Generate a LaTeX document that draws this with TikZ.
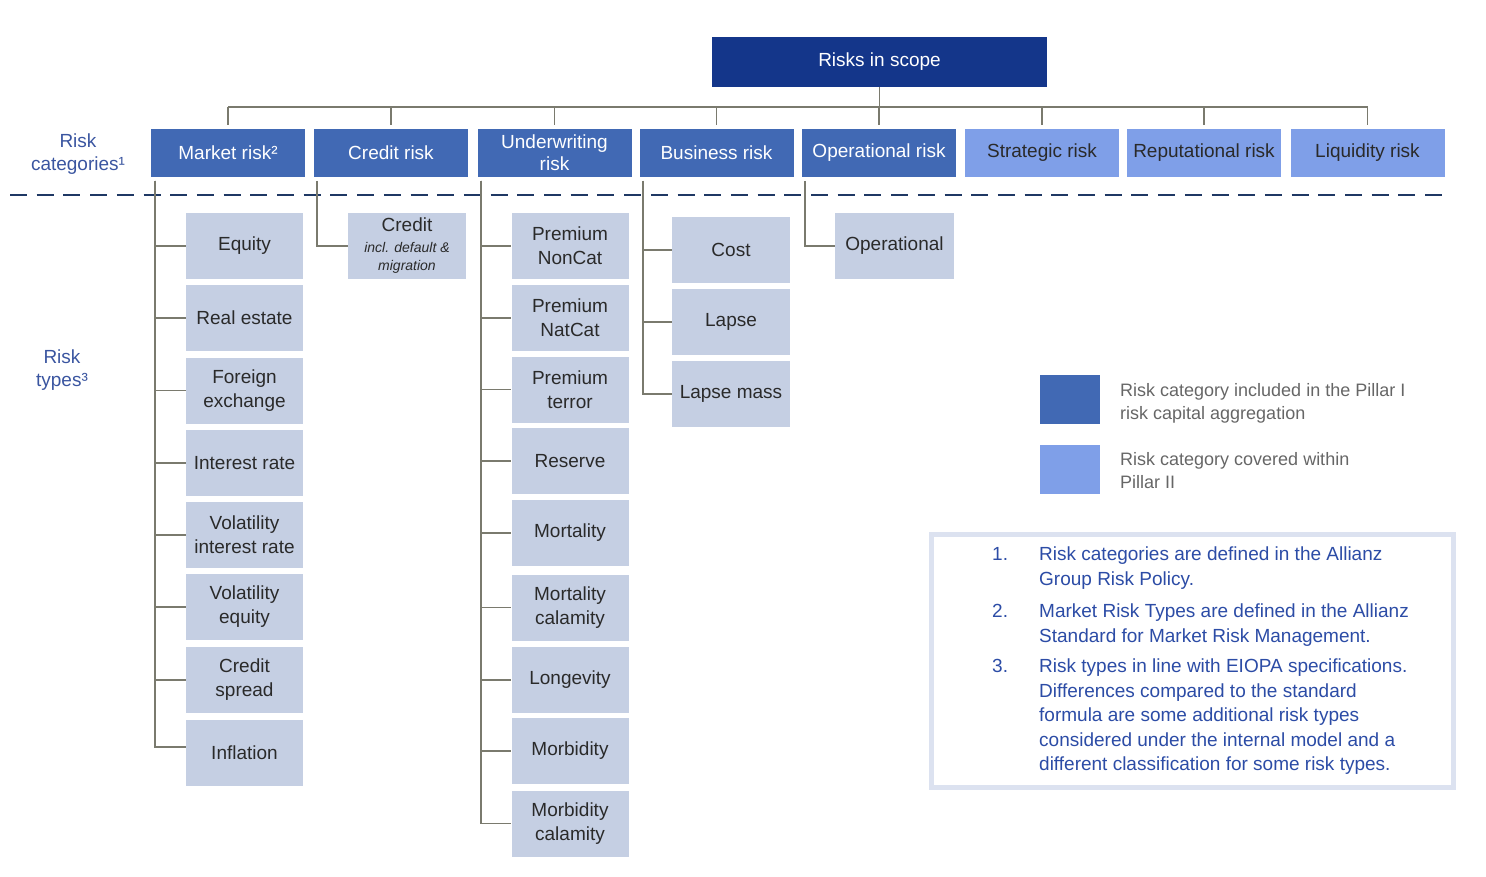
\documentclass[tikz,border=0pt]{standalone}
\usepackage{fontspec}
\setmainfont{Liberation Sans}
\usetikzlibrary{calc}
\definecolor{navy}{HTML}{14368A}
\definecolor{catdark}{HTML}{4169B4}
\definecolor{catlight}{HTML}{7F9FE8}
\definecolor{subbox}{HTML}{C5CFE3}
\definecolor{connc}{HTML}{7A7A6E}
\definecolor{dashc}{HTML}{1F3864}
\definecolor{lblblue}{HTML}{3A55A0}
\definecolor{fnblue}{HTML}{2C4CA6}
\definecolor{fnborder}{HTML}{DCE2F0}
\definecolor{legtext}{HTML}{666666}
\definecolor{boxtext}{HTML}{2A2A2A}
\begin{document}
\begin{tikzpicture}[x=1pt,y=-1pt,
  basebox/.style={inner sep=0pt, align=center, font=\fontsize{19}{22}\selectfont},
  catd/.style={basebox, fill=catdark, text=white, minimum width=154pt, minimum height=48pt},
  catl/.style={basebox, fill=catlight, text=boxtext, minimum width=154pt, minimum height=48pt},
  subb/.style={basebox, fill=subbox, text=boxtext, minimum width=117pt, minimum height=66pt, font=\fontsize{19}{24}\selectfont},
  conn/.style={draw=connc, line width=1.8pt},
  sidelbl/.style={inner sep=0pt, align=center, text=lblblue, font=\fontsize{19}{23}\selectfont, anchor=north},
  legsq/.style={inner sep=0pt, minimum width=60pt, minimum height=49pt},
  legtxt/.style={inner sep=0pt, align=left, text=legtext, font=\fontsize{18}{23}\selectfont, anchor=north west},
  fnnum/.style={inner sep=0pt, text=fnblue, font=\fontsize{19}{24.5}\selectfont, anchor=north west},
  fntxt/.style={inner sep=0pt, align=left, text=fnblue, font=\fontsize{19}{24.5}\selectfont, anchor=north west}
]
\useasboundingbox (0,0) rectangle (1486,877);

% top
\node[basebox, fill=navy, text=white, minimum width=335pt, minimum height=50pt] (top) at (879.5,62) {Risks in scope};

% categories
\node[catd] (mkt) at (228,153) {Market risk²};
\node[catd] (crd) at (391,153) {Credit risk};
\node[catd] (uw)  at (554.5,153) {Underwriting\\risk};
\node[catd] (bsn) at (716.5,153) {Business risk};
\node[catd] (ops) at (879,153) {Operational risk};
\node[catl] (str) at (1042,153) {Strategic risk};
\node[catl] (rep) at (1204,153) {Reputational risk};
\node[catl] (liq) at (1367.5,153) {Liquidity risk};

% bus
\coordinate (busy) at (879,107);
\draw[conn] (top.south) -- (top.south |- busy);
\draw[conn] (mkt.north |- busy) -- (liq.north |- busy);
\foreach \c in {mkt,crd,uw,bsn,ops,str,rep,liq}
  \draw[conn, shorten >=4pt] (\c.north |- busy) -- (\c.north);

% dashed separator
\coordinate (dl) at (10,195);
\coordinate (dr) at (1447,195);
\draw[dashc, line width=1.8pt, dash pattern=on 17pt off 9.7pt] (dl) -- (dr);

% side labels
\node[sidelbl] (lcat) at (78,134) {Risk\\categories¹};
\node[sidelbl] (ltyp) at (62,350) {Risk\\types³};

% market risk types
\node[subb] (eq)  at (244.5,246) {Equity};
\node[subb] (re)  at (244.5,318) {Real estate};
\node[subb] (fx)  at (244.5,390.5) {Foreign\\exchange};
\node[subb] (ir)  at (244.5,463) {Interest rate};
\node[subb] (vir) at (244.5,535) {Volatility\\interest rate};
\node[subb] (veq) at (244.5,607) {Volatility\\equity};
\node[subb] (cs)  at (244.5,680) {Credit\\spread};
\node[subb] (inf) at (244.5,753) {Inflation};
\coordinate (mkv) at (155,181);
\foreach \c in {eq,re,fx,ir,vir,veq,cs}
  \draw[conn] (mkv) |- (\c.west);
\draw[conn] (mkv) |- ([yshift=6pt]inf.west);

% credit
\node[subb, minimum width=118pt, font=\fontsize{19}{18}\selectfont] (cr) at (407,246)
  {Credit\\[3pt]{\fontsize{14}{18}\selectfont\itshape incl. default \&}\\{\fontsize{14}{18}\selectfont\itshape migration}};
\coordinate (crv) at (317,181);
\draw[conn] (crv) |- (cr.west);

% underwriting
\node[subb] (pnc) at (570,246) {Premium\\NonCat};
\node[subb] (pnat) at (570,318) {Premium\\NatCat};
\node[subb] (pter) at (570,389.5) {Premium\\terror};
\node[subb] (res) at (570,461) {Reserve};
\node[subb] (mor) at (570,533) {Mortality};
\node[subb] (morc) at (570,607.5) {Mortality\\calamity};
\node[subb] (lon) at (570,680) {Longevity};
\node[subb] (mob) at (570,751) {Morbidity};
\node[subb] (mobc) at (570,823.5) {Morbidity\\calamity};
\coordinate (uwv) at (481,181);
\foreach \c in {pnc,pnat,pter,res,mor,morc,lon,mob,mobc}
  \draw[conn] (uwv) |- (\c.west);

% business
\node[subb, minimum width=118pt] (cost) at (731,250) {Cost};
\node[subb, minimum width=118pt] (lap) at (731,322) {Lapse};
\node[subb, minimum width=118pt] (lapm) at (731,394) {Lapse mass};
\coordinate (bsv) at (643,181);
\foreach \c in {cost,lap,lapm}
  \draw[conn] (bsv) |- (\c.west);

% operational
\node[subb, minimum width=119pt] (opr) at (894.5,246) {Operational};
\coordinate (opv) at (805,181);
\draw[conn] (opv) |- (opr.west);

% legend
\node[legsq, fill=catdark] (lg1) at (1070,399.5) {};
\node[legsq, fill=catlight] (lg2) at (1070,469) {};
\node[legtxt] (lt1) at (1120,383) {Risk category included in the Pillar I\\risk capital aggregation};
\node[legtxt] (lt2) at (1120,452) {Risk category covered within\\Pillar II};

% footnotes
\node[draw=fnborder, line width=5pt, fill=white, minimum width=522pt, minimum height=253pt, inner sep=0pt] (fnbox) at (1192.5,661) {};
\node[fnnum] (n1) at (992,547) {1.};
\node[fntxt] (t1) at (1039,547) {Risk categories are defined in the Allianz\\Group Risk Policy.};
\node[fnnum] (n2) at (992,604) {2.};
\node[fntxt] (t2) at (1039,604) {Market Risk Types are defined in the Allianz\\Standard for Market Risk Management.};
\node[fnnum] (n3) at (992,659) {3.};
\node[fntxt] (t3) at (1039,659) {Risk types in line with EIOPA specifications.\\Differences compared to the standard\\formula are some additional risk types\\considered under the internal model and a\\different classification for some risk types.};
\end{tikzpicture}
\end{document}
